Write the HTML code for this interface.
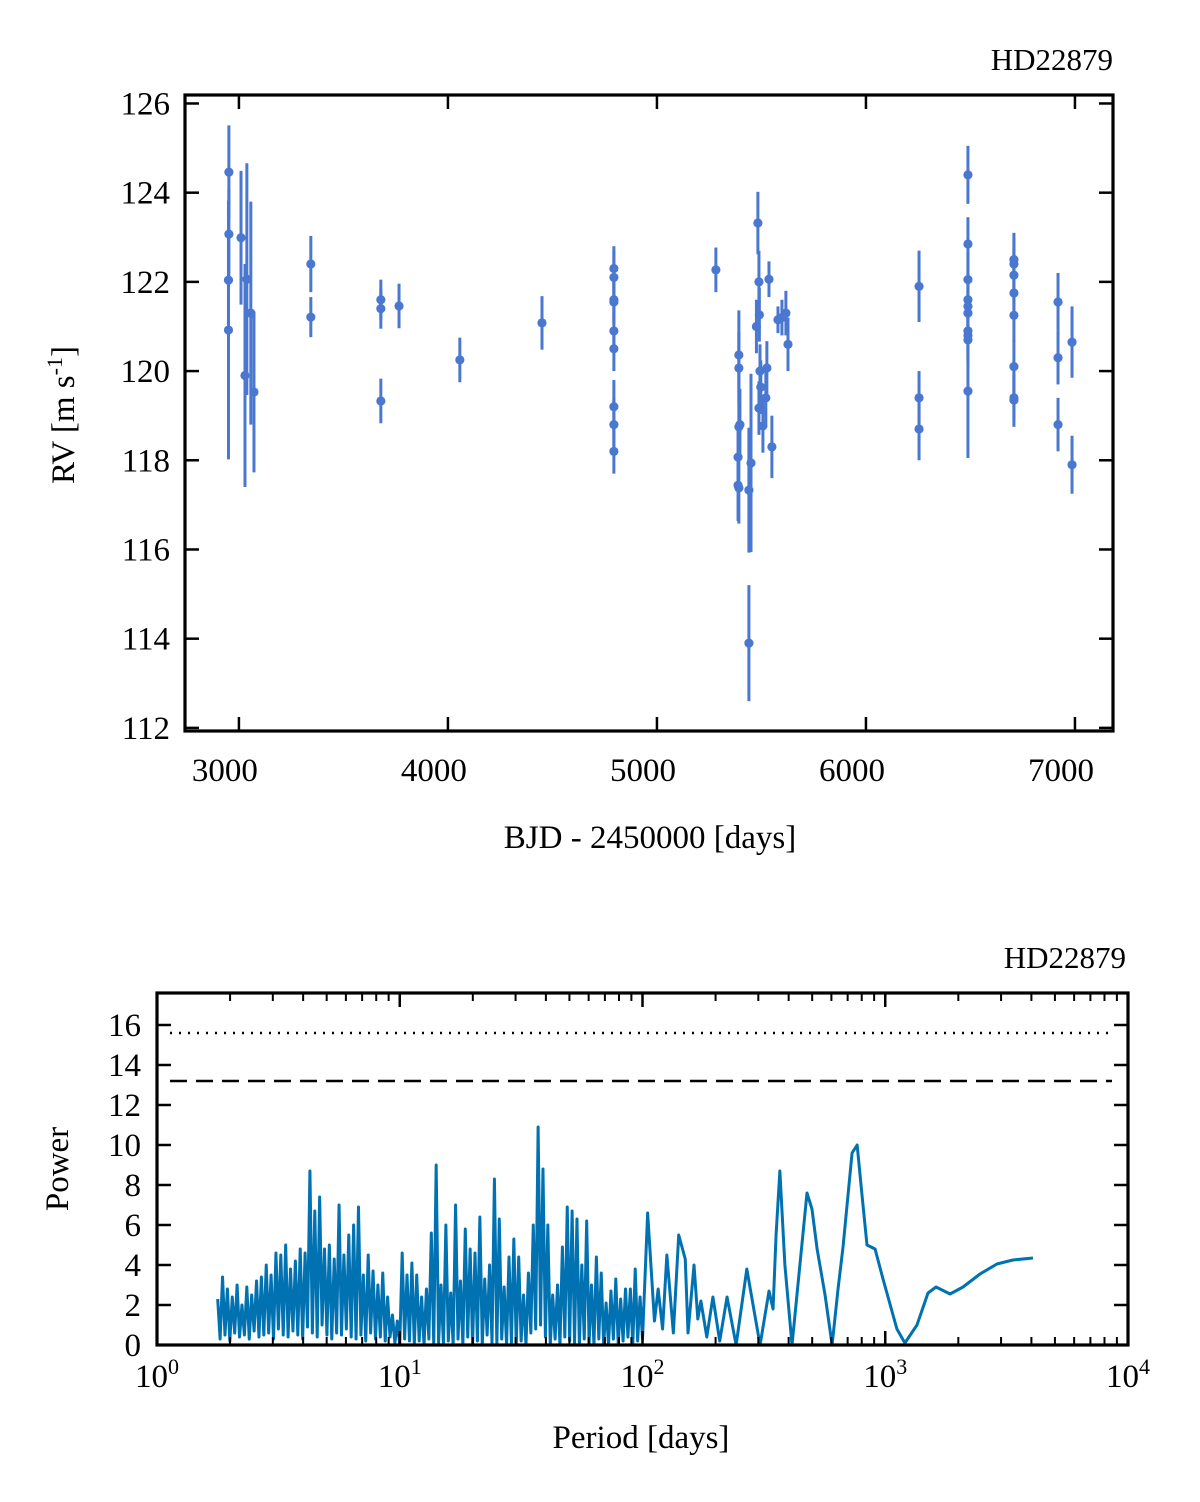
<!DOCTYPE html>
<html><head><meta charset="utf-8"><style>
body{margin:0;background:#fff;}
svg{display:block;font-family:"Liberation Serif",serif;}
</style></head><body>
<svg id="fig" width="1200" height="1502" viewBox="0 0 1200 1502" xmlns="http://www.w3.org/2000/svg"></svg>
<script>
// ---------- RV data ----------
const rvTimes = [2952,2952,2950,2950,3010,3038,3029,3057,3072,3344,3344,3679,3679,3679,3766,4057,4450,
 4794,4794,4794,4794,4794,4794,4794,4794,4794,5282,
 5483,5488,5536,5490,5476,5579,5598,5617,5627,5392,5392,5493,5526,5497,5521,5488,5397,5392,5507,5550,5388,5450,5388,5392,5440,5440,
 6254,6254,6254,6488,6488,6488,6488,6488,6488,6488,6488,6488,6488,
 6708,6708,6708,6708,6708,6708,6708,6708,6919,6919,6919,6986,6986];
const rvValues = [124.46,123.07,122.04,120.92,122.99,122.06,119.9,121.3,119.53,122.4,121.21,121.6,121.4,119.33,121.46,120.25,121.08,
 122.1,122.3,121.6,121.55,120.9,120.5,119.2,118.8,118.2,122.27,
 123.32,122.0,122.06,121.26,121.0,121.15,121.2,121.3,120.6,120.36,120.07,120.0,120.07,119.64,119.4,119.17,118.8,118.75,118.77,118.3,118.07,117.94,117.44,117.38,117.33,113.9,
 121.9,119.4,118.7,124.4,122.85,122.05,121.6,121.45,121.3,120.9,120.8,120.7,119.55,
 122.5,122.4,122.15,121.75,121.25,120.1,119.4,119.35,121.55,120.3,118.8,120.65,117.9];
const rvErrors = [1.05,1.0,1.0,2.9,1.5,2.6,2.5,2.5,1.8,0.63,0.45,0.45,0.45,0.5,0.5,0.5,0.6,
 0.6,0.5,0.5,0.5,0.5,0.5,0.6,0.6,0.5,0.5,
 0.7,0.7,0.4,0.6,0.6,0.3,0.4,0.5,0.6,1.0,0.8,0.6,0.6,0.6,0.6,0.6,0.8,0.6,0.6,0.7,0.8,2.0,0.8,0.8,1.4,1.3,
 0.8,0.6,0.7,0.65,0.6,0.6,0.6,0.6,0.6,0.6,0.6,0.6,1.5,
 0.6,0.6,0.6,0.6,0.6,0.6,0.5,0.6,0.65,0.6,0.6,0.8,0.65];
const rvXTicks = [3000,4000,5000,6000,7000];
const rvYTicks = [112,114,116,118,120,122,124,126];

// ---------- Periodogram data ----------
const denseStartLog = 0.25, denseStepLog = 0.01;
const powerDense = [
2.3,0.3,3.4,0.5,2.8,0.2,2.4,0.6,3.0,0.4,
2.0,0.5,2.9,0.3,2.5,0.7,3.2,0.4,3.4,0.5,
4.0,0.6,3.5,0.3,4.6,0.8,4.5,0.5,5.0,0.4,
3.8,0.7,4.2,0.5,4.8,0.3,4.6,0.9,8.7,0.6,
6.7,0.4,7.4,1.0,4.8,0.5,5.0,0.3,4.3,0.6,
7.0,0.5,4.5,0.8,5.5,0.4,6.0,0.3,6.9,0.5,
3.5,0.2,4.5,0.6,3.7,0.3,3.0,0.4,3.6,0.2,
2.4,0.4,1.5,0.1,1.2,0.0,4.6,0.3,3.5,0.2,
4.1,0.0,3.5,0.2,2.4,0.0,2.8,0.3,5.6,0.0,
9.0,0.1,3.0,0.0,6.0,0.2,2.6,0.0,7.0,0.3,
3.2,0.0,5.8,0.4,4.8,0.0,4.6,0.2,6.4,0.0,
3.3,0.5,4.0,0.1,8.3,0.0,6.3,0.3,2.9,0.0,
4.4,0.1,5.3,0.0,4.4,0.2,2.5,0.0,3.6,0.6,
6.0,0.8,10.9,1.0,8.8,0.4,6.0,0.0,2.5,0.3,
3.0,0.0,4.9,0.4,6.9,0.2,6.7,0.1,6.3,0.0,
4.0,0.3,6.2,0.1,3.0,0.0,4.4,0.3,3.6,0.0,
2.1,0.0,2.7,0.3,3.3,0.0,2.3,0.2,2.8,0.4,
2.8,0.0,3.8,0.2,2.4,0.3];
const periodsSmooth = [105,112,116,121,126,134,141,150,154,163,169,174,184,195,208,223,243,269,305,332,345,355,368,386,413,445,476,499,524,565,604,639,670,730,766,802,841,908,979,1117,1205,1351,1500,1619,1849,2091,2457,2884,3357,4060];
const powerSmooth   = [6.6,1.2,2.8,0.8,4.5,0.6,5.5,4.3,0.6,4.0,1.3,2.2,0.4,2.4,0.2,2.4,0.0,3.8,0.0,2.7,1.8,5.5,8.7,4.0,0.0,4.0,7.6,6.8,4.8,2.5,0.0,2.8,4.9,9.6,10.0,7.5,5.0,4.8,3.3,0.8,0.1,1.0,2.6,2.9,2.55,2.9,3.55,4.05,4.25,4.35];
const fapLevels = [15.6, 13.2];
const pgYTicks = [0,2,4,6,8,10,12,14,16];
const pgXDecades = [0,1,2,3,4];

const NS="http://www.w3.org/2000/svg";
const svg=document.getElementById('fig');
function el(tag,attrs,parent){const e=document.createElementNS(NS,tag);for(const k in attrs)e.setAttribute(k,attrs[k]);(parent||svg).appendChild(e);return e;}
function txt(s,x,y,size,anchor,parent){const t=el('text',{x:x,y:y,'font-size':size,'text-anchor':anchor||'middle',fill:'#000'},parent);t.textContent=s;return t;}

// ===== Top RV panel =====
const L1=185,R1=1113,T1=95,B1=731;
const tMin=2742,tMax=7182,vMin=111.93,vMax=126.19;
const xT=t=>L1+(t-tMin)/(tMax-tMin)*(R1-L1);
const yV=v=>B1-(v-vMin)/(vMax-vMin)*(B1-T1);
const g1=el('g',{});


const pts=el('g',{},g1);


rvTimes.forEach((t,i)=>{
  const x=xT(t),y=yV(rvValues[i]);
  const eb=el('line',{x1:x,x2:x,y1:yV(rvValues[i]+rvErrors[i]),y2:yV(rvValues[i]-rvErrors[i]),stroke:'#4a78d0','stroke-width':3},pts);
  
  
  const c=el('circle',{cx:x,cy:y,r:4.6,fill:'#4a78d0'},pts);
  
  
});
const box1=el('rect',{x:L1,y:T1,width:R1-L1,height:B1-T1,fill:'none',stroke:'#000','stroke-width':3.2},g1);


rvXTicks.forEach(t=>{const x=xT(t);
  el('line',{x1:x,x2:x,y1:B1,y2:B1-14,stroke:'#000','stroke-width':2.5},g1);
  el('line',{x1:x,x2:x,y1:T1,y2:T1+14,stroke:'#000','stroke-width':2.5},g1);
  const l=txt(String(t),x-14,781,33,'middle',g1);
  
  
});
rvYTicks.forEach(v=>{const y=yV(v);
  el('line',{x1:L1,x2:L1+14,y1:y,y2:y,stroke:'#000','stroke-width':2.5},g1);
  el('line',{x1:R1,x2:R1-14,y1:y,y2:y,stroke:'#000','stroke-width':2.5},g1);
  const l=txt(String(v),170,y+11,33,'end',g1);
  
  
});
const tt1=txt('HD22879',1113,70,31,'end',g1);


const xl1=txt('BJD - 2450000 [days]',650,848,33,'middle',g1);


const yl1=el('text',{x:0,y:0,'font-size':33,'text-anchor':'middle',transform:'translate(74,415) rotate(-90)'},g1);
yl1.innerHTML='RV [m s<tspan dy="-12" font-size="22">-1</tspan><tspan dy="12">]</tspan>';



// ===== Bottom periodogram panel =====
const L2=157,R2=1128,T2=993,B2=1345;
const xP=p=>L2+Math.log10(p)/4*(R2-L2);
const xLog=lg=>L2+lg/4*(R2-L2);
const yP=v=>B2-v*20;
const g2=el('g',{});


let d='';
powerDense.forEach((v,i)=>{d+=(i?'L':'M')+xLog(denseStartLog+i*denseStepLog).toFixed(2)+','+yP(v).toFixed(2);});
periodsSmooth.forEach((p,i)=>{d+='L'+xP(p).toFixed(2)+','+yP(powerSmooth[i]).toFixed(2);});
const line=el('path',{d:d,fill:'none',stroke:'#0072b2','stroke-width':3,'stroke-linejoin':'round'},g2);


const fap1=el('line',{x1:170,x2:1112,y1:yP(fapLevels[0]),y2:yP(fapLevels[0]),stroke:'#000','stroke-width':2.4,'stroke-dasharray':'2 7'},g2);


const fap2=el('line',{x1:170,x2:1112,y1:yP(fapLevels[1]),y2:yP(fapLevels[1]),stroke:'#000','stroke-width':2.4,'stroke-dasharray':'17 9'},g2);


const box2=el('rect',{x:L2,y:T2,width:R2-L2,height:B2-T2,fill:'none',stroke:'#000','stroke-width':3.2},g2);


pgXDecades.forEach(k=>{
  const x=xLog(k);
  el('line',{x1:x,x2:x,y1:B2,y2:B2-14,stroke:'#000','stroke-width':2.5},g2);
  el('line',{x1:x,x2:x,y1:T2,y2:T2+14,stroke:'#000','stroke-width':2.5},g2);
  const l=el('text',{x:x,y:1387,'font-size':33,'text-anchor':'middle'},g2);
  l.innerHTML='10<tspan dy="-13" font-size="22">'+k+'</tspan>';
  
  
  if(k<4){for(let m=2;m<=9;m++){const xm=xLog(k+Math.log10(m));
    el('line',{x1:xm,x2:xm,y1:B2,y2:B2-8,stroke:'#000','stroke-width':2},g2);
    el('line',{x1:xm,x2:xm,y1:T2,y2:T2+8,stroke:'#000','stroke-width':2},g2);}}
});
pgYTicks.forEach(v=>{const y=yP(v);
  el('line',{x1:L2,x2:L2+14,y1:y,y2:y,stroke:'#000','stroke-width':2.5},g2);
  el('line',{x1:R2,x2:R2-14,y1:y,y2:y,stroke:'#000','stroke-width':2.5},g2);
  const l=txt(String(v),141,y+11,33,'end',g2);
  
  
});
const tt2=txt('HD22879',1126,968,31,'end',g2);


const xl2=txt('Period [days]',641,1448,33,'middle',g2);


const yl2=el('text',{x:0,y:0,'font-size':33,'text-anchor':'middle',transform:'translate(68,1169) rotate(-90)'},g2);
yl2.textContent='Power';


</script>
</body></html>
